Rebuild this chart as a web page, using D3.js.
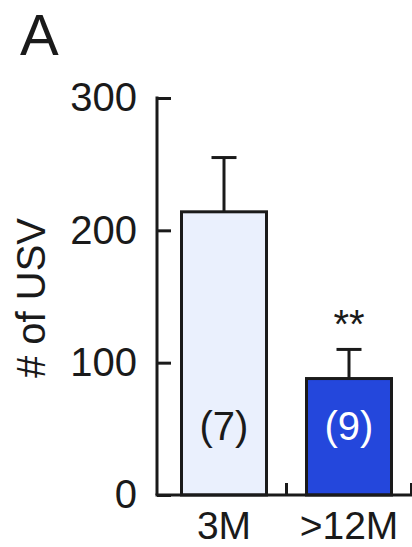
<!DOCTYPE html>
<html>
<head>
<meta charset="utf-8">
<script src="https://cdn.jsdelivr.net/npm/d3@7"></script>
<style>
  html, body { margin: 0; padding: 0; background: #fff; }
  svg text { font-family: "Liberation Sans", Arial, sans-serif; fill: #1a1a1a; }
</style>
</head>
<body>
<svg width="412" height="547"></svg>
<script>
// data
var groups = ["3M", ">12M"];
var means = [214, 88];
var errTop = [255, 110];
var nAnimals = [7, 9];
var sigMarks = ["", "**"];
var yTicks = [0, 100, 200, 300];
var fills = ["#eaf0fd", "#2447dc"];
var nColors = ["#1a1a1a", "#ffffff"];

var svg = d3.select("svg");
var ink = "#1a1a1a";

var y = d3.scaleLinear().domain([0, 300]).range([495, 98]);
var x = d3.scaleBand().domain(groups).range([161.5, 411.5])
    .paddingInner(0.32).paddingOuter(0.16);
var axisX = 157;

// panel letter
svg.append("text")
    .attr("x", 20).attr("y", 55)
    .style("font-size", "58px")
    .text("A");

// bars
svg.selectAll("rect.bar")
    .data(groups)
    .enter().append("rect")
    .attr("class", "bar")
    .attr("x", function(d) { return x(d); })
    .attr("y", function(d, i) { return y(means[i]); })
    .attr("width", x.bandwidth())
    .attr("height", function(d, i) { return y(0) - y(means[i]); })
    .style("fill", function(d, i) { return fills[i]; })
    .style("stroke", ink)
    .style("stroke-width", 3);

// error bars (upper only)
var err = svg.selectAll("g.err")
    .data(groups)
    .enter().append("g")
    .attr("class", "err")
    .attr("transform", function(d) { return "translate(" + (x(d) + x.bandwidth() / 2) + ",0)"; });
err.append("line")
    .attr("x1", 0).attr("x2", 0)
    .attr("y1", function(d, i) { return y(means[i]); })
    .attr("y2", function(d, i) { return y(errTop[i]); })
    .style("stroke", ink).style("stroke-width", 3);
err.append("line")
    .attr("x1", -12.5).attr("x2", 12.5)
    .attr("y1", function(d, i) { return y(errTop[i]); })
    .attr("y2", function(d, i) { return y(errTop[i]); })
    .style("stroke", ink).style("stroke-width", 3);

// significance stars
err.append("text")
    .attr("y", 338)
    .attr("text-anchor", "middle")
    .style("font-size", "40px")
    .text(function(d, i) { return sigMarks[i]; });

// n per group
svg.selectAll("text.n")
    .data(groups)
    .enter().append("text")
    .attr("class", "n")
    .attr("x", function(d) { return x(d) + x.bandwidth() / 2; })
    .attr("y", 440)
    .attr("text-anchor", "middle")
    .style("font-size", "40px")
    .style("fill", function(d, i) { return nColors[i]; })
    .text(function(d, i) { return "(" + nAnimals[i] + ")"; });

// y axis
var yAxis = d3.axisLeft(y).tickValues(yTicks).tickSize(-14).tickPadding(20);
var gy = svg.append("g")
    .attr("transform", "translate(" + axisX + ",0)")
    .call(yAxis);
gy.select(".domain").remove();
gy.append("line")
    .attr("x1", 0).attr("x2", 0)
    .attr("y1", y(300) - 1.5).attr("y2", y(0))
    .style("stroke", ink).style("stroke-width", 3);
gy.selectAll(".tick line").style("stroke", ink).style("stroke-width", 3);
gy.selectAll(".tick text")
    .style("font-size", "40px")
    .style("font-family", "Liberation Sans, Arial, sans-serif")
    .style("fill", ink);

// x axis
var xAxis = d3.axisBottom(x).tickSize(0).tickPadding(16.5);
var gx = svg.append("g")
    .attr("transform", "translate(0," + y(0) + ")")
    .call(xAxis);
gx.select(".domain").remove();
gx.append("line")
    .attr("x1", axisX - 1.5).attr("x2", 412)
    .attr("y1", 0).attr("y2", 0)
    .style("stroke", ink).style("stroke-width", 3);
gx.selectAll(".tick text")
    .style("font-size", "39px")
    .style("font-family", "Liberation Sans, Arial, sans-serif")
    .style("fill", ink);
// boundary ticks between groups
gx.selectAll("line.sep")
    .data(groups)
    .enter().append("line")
    .attr("class", "sep")
    .attr("x1", function(d) { return x(d) - x.step() * x.paddingInner() / 2 + x.step(); })
    .attr("x2", function(d) { return x(d) - x.step() * x.paddingInner() / 2 + x.step(); })
    .attr("y1", 0).attr("y2", -12)
    .style("stroke", ink).style("stroke-width", 3);

// y label
svg.append("text")
    .attr("transform", "translate(45,298) rotate(-90)")
    .attr("text-anchor", "middle")
    .style("font-size", "40px")
    .text("# of USV");
</script>
</body>
</html>
